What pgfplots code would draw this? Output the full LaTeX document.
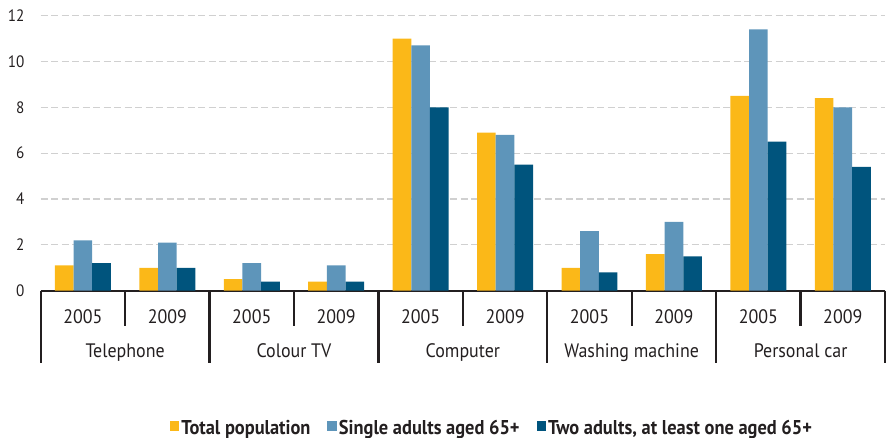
\documentclass[border=0pt]{standalone}
\usepackage{fontspec}
\setmainfont{PT Sans}[FakeStretch=0.92]
\usepackage{pgfplots}
\pgfplotsset{compat=1.18}
\definecolor{cyel}{RGB}{251,184,24}
\definecolor{cblu}{RGB}{94,149,186}
\definecolor{cnav}{RGB}{0,84,125}
\definecolor{caxis}{RGB}{35,31,32}
\definecolor{cgrid}{RGB}{208,208,208}
\begin{document}
\begin{tikzpicture}
\begin{axis}[
  at={(40.7pt,147.3pt)}, anchor=south west,
  scale only axis, width=844.3pt, height=275pt,
  xmin=-0.5, xmax=9.5, ymin=0, ymax=12,
  axis x line*=bottom, axis y line*=left,
  y axis line style={draw=none},
  x axis line style={line width=2.2pt, color=caxis},
  xtick=data,
  xticklabels={2005,2009,2005,2009,2005,2009,2005,2009,2005,2009},
  ytick={0,2,...,12},
  major tick length=0pt,
  ymajorgrids,
  grid style={cgrid, line width=1.2pt, dash pattern=on 7pt off 3.5pt},
  /pgf/number format/assume math mode=true,
  yticklabel style={font=\fontsize{16.5}{18}\selectfont, color=caxis, anchor=east, inner sep=0pt, xshift=-16pt},
  xticklabel style={font=\fontsize{19.5}{20}\selectfont, color=caxis, anchor=center, inner sep=0pt, yshift=-25.5pt},
  clip=false,
  legend columns=3,
  legend style={at={(rel axis cs:0.5345,-0.498)}, anchor=center, draw=none, fill=none,
    font=\fontsize{20}{22}\selectfont\bfseries, text=caxis, inner sep=0pt,
    /tikz/every even column/.append style={column sep=15pt}},
  legend image code/.code={\fill[#1] (0pt,-3pt) rectangle (9.5pt,6.5pt);},
]
\addplot[ybar, bar width=0.221, bar shift=-0.221, fill=cyel, draw=none] coordinates {
 (0,1.1) (1,1.0) (2,0.5) (3,0.4) (4,11.0) (5,6.9) (6,1.0) (7,1.6) (8,8.5) (9,8.4)};
\addplot[ybar, bar width=0.221, bar shift=0, fill=cblu, draw=none] coordinates {
 (0,2.2) (1,2.1) (2,1.2) (3,1.1) (4,10.7) (5,6.8) (6,2.6) (7,3.0) (8,11.4) (9,8.0)};
\addplot[ybar, bar width=0.221, bar shift=0.221, fill=cnav, draw=none] coordinates {
 (0,1.2) (1,1.0) (2,0.4) (3,0.4) (4,8.0) (5,5.5) (6,0.8) (7,1.5) (8,6.5) (9,5.4)};
\legend{Total population,Single adults aged 65+,{Two adults, at least one aged 65+}}
\pgfplotsinvokeforeach{-0.5,1.5,3.5,5.5,7.5,9.5}{
  \draw[caxis, line width=2.2pt] (axis cs:#1,0) -- ([yshift=-72.3pt]axis cs:#1,0);}
\pgfplotsinvokeforeach{0.5,2.5,4.5,6.5,8.5}{
  \draw[caxis, line width=2.2pt] (axis cs:#1,0) -- ([yshift=-35.7pt]axis cs:#1,0);}
\node[anchor=base, inner sep=0pt, color=caxis, font=\fontsize{19.5}{20}\selectfont, yshift=-67.3pt] at (axis cs:0.5,0) {Telephone};
\node[anchor=base, inner sep=0pt, color=caxis, font=\fontsize{19.5}{20}\selectfont, yshift=-67.3pt] at (axis cs:2.5,0) {Colour TV};
\node[anchor=base, inner sep=0pt, color=caxis, font=\fontsize{19.5}{20}\selectfont, yshift=-67.3pt] at (axis cs:4.5,0) {Computer};
\node[anchor=base, inner sep=0pt, color=caxis, font=\fontsize{19.5}{20}\selectfont, yshift=-67.3pt] at (axis cs:6.5,0) {Washing machine};
\node[anchor=base, inner sep=0pt, color=caxis, font=\fontsize{19.5}{20}\selectfont, yshift=-67.3pt] at (axis cs:8.5,0) {Personal car};
\end{axis}
\pgfresetboundingbox
\useasboundingbox (0,0) rectangle (887pt,438pt);
\end{tikzpicture}
\end{document}
